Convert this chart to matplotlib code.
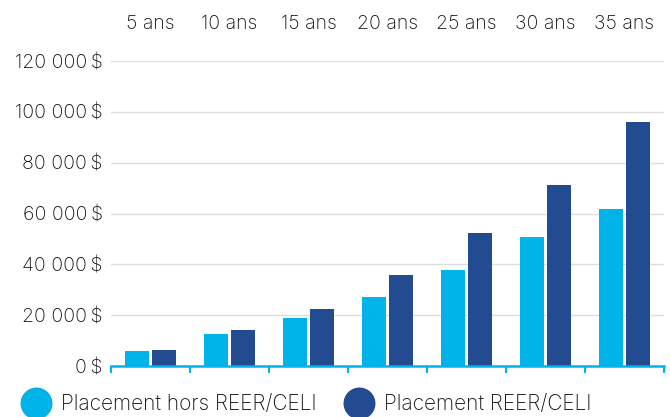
import numpy as np
import matplotlib.pyplot as plt
from matplotlib.lines import Line2D
from matplotlib.ticker import FuncFormatter

periodes = ["5 ans", "10 ans", "15 ans", "20 ans", "25 ans", "30 ans", "35 ans"]
hors_reer = [5900, 12700, 18900, 27300, 37900, 50900, 61900]
reer_celi = [6300, 14200, 22500, 35900, 52500, 71400, 95900]
series_noms = ["Placement hors REER/CELI", "Placement REER/CELI"]

cyan = "#00b3e9"
bleu = "#234b91"

plt.rcParams['font.family'] = ['Inter', 'DejaVu Sans']
plt.rcParams['font.weight'] = 'light'

fig = plt.figure(figsize=(6.7, 4.17), dpi=100)
ax = fig.add_axes([0.1657, 0.1223, 0.8253, 0.7314])

x = np.arange(len(periodes))
ax.bar(x - 0.17, hors_reer, width=0.30, color=cyan, zorder=3)
ax.bar(x + 0.17, reer_celi, width=0.30, color=bleu, zorder=3)

ax.set_xlim(-0.5, len(periodes) - 0.5)
ax.set_ylim(0, 120000)
ax.set_yticks(np.arange(0, 120001, 20000))
ax.yaxis.set_major_formatter(FuncFormatter(
    lambda v, p: f"{int(v):,}".replace(",", " ") + "\u2009$"))
ax.grid(axis="y", color="#dddddd", linewidth=1, zorder=0)
ax.tick_params(axis="y", length=0, pad=6, labelsize=14, labelcolor="#111111")

# category labels on top
ax.set_xticks([])
for i, p in enumerate(periodes):
    ax.text(i, 1.121, p, transform=ax.get_xaxis_transform(), ha="center",
            va="center", fontsize=14, color="#111111")

# cyan baseline with separator ticks
ax.set_xticks(np.arange(-0.5, len(periodes)), minor=True)
ax.tick_params(axis="x", which="minor", length=5, width=1.5, color=cyan,
               direction="out")
for s in ["top", "right", "left"]:
    ax.spines[s].set_visible(False)
ax.spines["bottom"].set_color(cyan)
ax.spines["bottom"].set_linewidth(1.8)
ax.spines["bottom"].set_zorder(4)

handles = [Line2D([], [], marker="o", linestyle="none", markersize=22,
                  markerfacecolor=c, markeredgecolor=c) for c in (cyan, bleu)]
fig.legend(handles, series_noms, loc="center left",
           bbox_to_anchor=(-0.005, 0.03), ncol=2, frameon=False,
           fontsize=15, handletextpad=0.2, columnspacing=1.0,
           labelcolor="#111111")

fig.savefig("out.png", dpi=100)
